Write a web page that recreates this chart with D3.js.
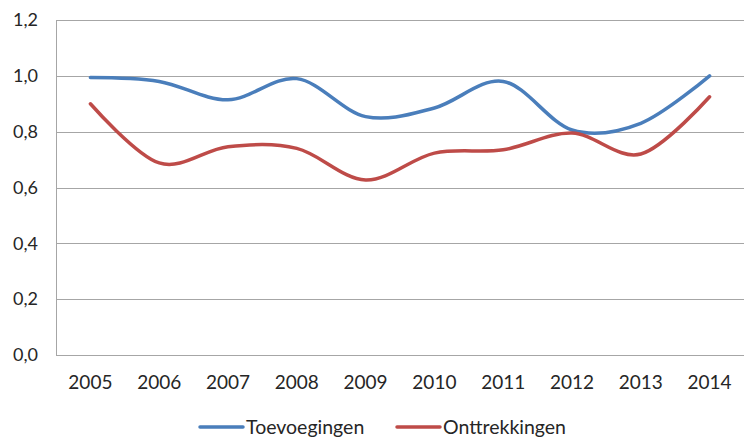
<!DOCTYPE html>
<html lang="nl">
<head>
<meta charset="utf-8">
<title>Toevoegingen en onttrekkingen</title>
<style>
  body { margin: 0; background: #fff; }
  text { font-family: Lato, "Open Sans", sans-serif; fill: #262626; }
</style>
</head>
<body>
<div id="chart"></div>
<script src="https://cdn.jsdelivr.net/npm/d3@7"></script>
<script>
  const years = ["2005", "2006", "2007", "2008", "2009", "2010", "2011", "2012", "2013", "2014"];
  const toevoegingen = [0.994, 0.98, 0.914, 0.99, 0.854, 0.885, 0.98, 0.806, 0.83, 1.0];
  const onttrekkingen = [0.90, 0.688, 0.746, 0.74, 0.627, 0.723, 0.735, 0.795, 0.72, 0.925];
  const yTicks = [0, 0.2, 0.4, 0.6, 0.8, 1.0, 1.2];
  const seriesNames = ["Toevoegingen", "Onttrekkingen"];
  const colors = ["#4a7ebb", "#be4b48"];

  const width = 746, height = 438;
  const margin = {top: 20, right: 2, bottom: 83, left: 56};

  const svg = d3.select("#chart").append("svg")
      .attr("width", width)
      .attr("height", height);

  const x = d3.scalePoint()
      .domain(years)
      .range([margin.left, width - margin.right])
      .padding(0.5);

  const y = d3.scaleLinear()
      .domain([0, 1.2])
      .range([height - margin.bottom, margin.top]);

  const fmt = d => d3.format(".1f")(d).replace(".", ",");

  // gridlines
  svg.append("g")
    .selectAll("line")
    .data(yTicks)
    .join("line")
      .attr("x1", margin.left)
      .attr("x2", width - margin.right)
      .attr("y1", d => Math.round(y(d)) + 0.5)
      .attr("y2", d => Math.round(y(d)) + 0.5)
      .attr("stroke", "#a6a6a6")
      .attr("stroke-width", 1);

  // left axis line
  svg.append("line")
      .attr("x1", margin.left + 0.5)
      .attr("x2", margin.left + 0.5)
      .attr("y1", y(1.2))
      .attr("y2", y(0))
      .attr("stroke", "#a6a6a6");

  // y labels
  svg.append("g")
    .selectAll("text")
    .data(yTicks)
    .join("text")
      .attr("x", 38)
      .attr("y", d => y(d))
      .attr("dy", "0.35em")
      .attr("text-anchor", "end")
      .style("font-size", "18px")
      .text(fmt);

  // x labels
  svg.append("g")
    .selectAll("text")
    .data(years)
    .join("text")
      .attr("x", d => x(d))
      .attr("y", 382)
      .attr("dy", "0.35em")
      .attr("text-anchor", "middle")
      .style("font-size", "19px")
      .text(d => d);

  const line = d3.line()
      .x((d, i) => x(years[i]))
      .y(d => y(d))
      .curve(d3.curveCardinal.tension(0));

  svg.append("g")
    .attr("fill", "none")
    .selectAll("path")
    .data([toevoegingen, onttrekkingen])
    .join("path")
      .attr("d", line)
      .attr("stroke", (d, i) => colors[i])
      .attr("stroke-width", 3.5)
      .attr("stroke-linecap", "round");

  // legend
  const legendX = [200, 397];
  const lg = svg.append("g")
    .selectAll("g")
    .data(seriesNames)
    .join("g")
      .attr("transform", (d, i) => `translate(${legendX[i]},427)`);
  lg.append("line")
      .attr("x1", 0).attr("x2", 43)
      .attr("stroke", (d, i) => colors[i])
      .attr("stroke-width", 3.5)
      .attr("stroke-linecap", "round");
  lg.append("text")
      .attr("x", 46)
      .attr("dy", "0.35em")
      .style("font-size", "19.5px")
      .text(d => d);
</script>
</body>
</html>
